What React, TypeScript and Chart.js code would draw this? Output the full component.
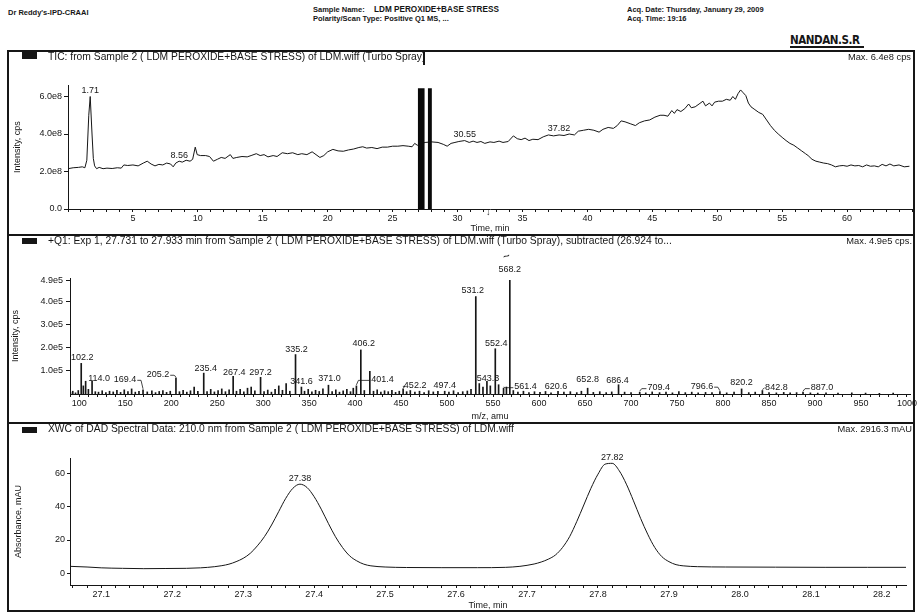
import React, { useEffect, useRef } from "react";
import { Chart, registerables } from "chart.js";

Chart.register(...registerables);

const FONT = "'Liberation Sans', Arial, Helvetica, sans-serif";
const INK = "#161616";

// ---------------- Panel 1: TIC (intensity in units of 1e8 cps) ----------------
const ticTime = [
  0, 0.4, 0.8, 1.1, 1.3, 1.45, 1.6, 1.71, 1.85, 1.95,
  2.05, 2.2, 2.4, 2.7, 3.0, 3.4, 3.8, 4.1, 4.3, 4.6,
  5.0, 5.4, 5.8, 6.1, 6.4, 6.7, 7.0, 7.3, 7.6, 7.9,
  8.1, 8.3, 8.56, 8.8, 9.1, 9.4, 9.6, 9.8, 9.95, 10.2,
  10.6, 10.9, 11.2, 11.5, 11.8, 12.1, 12.5, 12.7, 13.0, 13.4,
  13.8, 14.1, 14.5, 14.8, 15.1, 15.4, 15.8, 16.1, 16.5, 16.9,
  17.3, 17.7, 18.0, 18.4, 18.8, 19.1, 19.4, 19.7, 20.0, 20.4,
  20.8, 21.2, 21.6, 22.0, 22.4, 22.7, 23.0, 23.4, 23.8, 24.2,
  24.6, 25.0, 25.4, 25.8, 26.2, 26.5, 26.7, 26.9, 27.5, 28.0,
  28.5, 28.9, 29.2, 29.5, 29.8, 30.1, 30.55, 30.9, 31.2, 31.5,
  31.8, 32.1, 32.5, 32.8, 33.2, 33.5, 33.9, 34.3, 34.6, 34.9,
  35.2, 35.5, 35.8, 36.2, 36.6, 37.0, 37.4, 37.82, 38.2, 38.6,
  39.0, 39.3, 39.7, 40.1, 40.5, 40.9, 41.2, 41.6, 42.0, 42.3,
  42.6, 42.9, 43.3, 43.7, 44.0, 44.4, 44.8, 45.2, 45.6, 45.9,
  46.2, 46.5, 46.7, 46.9, 47.2, 47.5, 47.8, 48.0, 48.3, 48.6,
  48.9, 49.1, 49.4, 49.6, 49.8, 50.1, 50.4, 50.7, 51.0, 51.2,
  51.4, 51.6, 51.8, 52.0, 52.2, 52.4, 52.6, 52.9, 53.2, 53.5,
  53.8, 54.1, 54.4, 54.7, 55.0, 55.3, 55.6, 55.9, 56.2, 56.5,
  56.8, 57.0, 57.3, 57.6, 57.9, 58.2, 58.5, 58.8, 59.1, 59.4,
  59.7, 60.0, 60.3, 60.6, 60.9, 61.2, 61.5, 61.8, 62.1, 62.4,
  62.7, 63.0, 63.3, 63.6, 64.0, 64.4, 64.8,
];
const ticIntensity = [
  2.15, 2.2, 2.22, 2.25, 2.2, 2.6, 5.0, 6.0, 4.0, 2.7,
  2.3, 2.15, 2.22, 2.15, 2.18, 2.16, 2.2, 2.18, 2.35, 2.32,
  2.35, 2.3, 2.45, 2.55, 2.4, 2.3, 2.38, 2.35, 2.45, 2.4,
  2.25, 2.45, 2.55, 2.5, 2.6, 2.55, 2.65, 3.3, 2.9, 2.85,
  2.85, 2.8, 2.55, 2.65, 2.75, 2.7, 2.9, 2.7, 2.75, 2.8,
  2.78, 2.85, 2.95, 2.85, 2.9, 2.78, 2.85, 2.8, 3.0, 2.95,
  3.0, 2.9, 2.95, 2.9, 3.05, 2.9, 2.75, 2.85, 3.05, 3.18,
  3.1, 3.08, 3.15, 3.2, 3.28, 3.32, 3.25, 3.28, 3.22, 3.3,
  3.3, 3.35, 3.35, 3.38, 3.35, 3.32, 3.5, 3.4, 3.55, 3.58,
  3.55, 3.45, 3.35, 3.5, 3.55, 3.6, 3.65, 3.55, 3.62, 3.55,
  3.6, 3.5, 3.58, 3.55, 3.62, 3.55, 3.6, 3.9, 3.75, 3.7,
  3.78, 3.65, 3.72, 3.7, 3.85, 3.95, 3.9, 3.95, 3.92, 4.0,
  3.95, 4.15, 4.2, 4.25, 4.2, 4.1, 4.25, 4.35, 4.3, 4.45,
  4.7, 4.65, 4.55, 4.45, 4.6, 4.7, 4.75, 4.9, 5.0, 5.0,
  4.95, 5.25, 5.1, 5.3, 5.2, 5.35, 5.6, 5.4, 5.45, 5.6,
  5.75, 5.5, 5.65, 5.5, 5.7, 5.75, 5.75, 5.85, 5.8, 6.0,
  5.85, 6.15, 6.35, 6.2, 6.05, 5.65, 5.45, 5.3, 5.15, 5.05,
  4.75, 4.45, 4.2, 4.0, 3.82, 3.65, 3.5, 3.4, 3.25, 3.1,
  2.95, 2.85, 2.65, 2.55, 2.5, 2.45, 2.42, 2.35, 2.25, 2.3,
  2.32, 2.28, 2.35, 2.3, 2.32, 2.25, 2.35, 2.28, 2.3, 2.25,
  2.38, 2.3, 2.4, 2.3, 2.35, 2.25, 2.28,
];
const ticPeakTimes = [1.71, 8.56, 30.55, 37.82];
const ticPeakLabels = ["1.71", "8.56", "30.55", "37.82"];
const ticWindowStart = [26.95, 27.72];
const ticWindowEnd = [27.46, 28.02];
const ticWindowTop = 6.44;
const ticXTicks = [5, 10, 15, 20, 25, 30, 35, 40, 45, 50, 55, 60];
const ticYTicks = [0, 2, 4, 6];
const ticYTickLabels = ["0.0", "2.0e8", "4.0e8", "6.0e8"];

// ---------------- Panel 2: Q1 spectrum (intensity in units of 1e5 cps) ----------------
const msMz = [
  88.0, 90.5, 93.0, 96.0, 99.0, 102.2, 104.5, 107.0, 110.0, 114.0,
  117.5, 121.0, 125.0, 129.0, 133.0, 137.0, 141.0, 145.0, 149.0, 153.0,
  157.0, 161.0, 165.0, 169.4, 174.0, 179.0, 183.0, 187.0, 191.0, 195.0,
  199.0, 205.2, 209.0, 213.0, 217.0, 221.0, 225.0, 229.0, 235.4, 239.0,
  243.0, 247.0, 251.0, 255.0, 259.0, 263.0, 267.4, 271.0, 275.0, 279.0,
  283.0, 287.0, 291.0, 297.2, 301.0, 305.0, 309.0, 313.0, 317.0, 321.0,
  325.0, 329.0, 335.2, 341.6, 345.0, 349.0, 353.0, 357.0, 361.0, 365.0,
  371.0, 375.0, 379.0, 383.0, 387.0, 391.0, 395.0, 398.0, 401.4, 406.2,
  410.0, 416.0, 420.0, 424.0, 428.0, 432.0, 436.0, 440.0, 444.0, 448.0,
  452.2, 456.0, 460.0, 465.0, 470.0, 475.0, 480.0, 485.0, 490.0, 497.4,
  502.0, 507.0, 512.0, 517.0, 522.0, 526.0, 531.2, 535.0, 539.0, 543.3,
  547.0, 552.4, 556.0, 561.4, 564.5, 568.2, 572.0, 577.0, 583.0, 589.0,
  595.0, 601.0, 607.0, 613.0, 620.6, 627.0, 634.0, 641.0, 646.0, 652.8,
  659.0, 666.0, 673.0, 679.0, 686.4, 693.0, 700.0, 709.4, 716.0, 723.0,
  731.0, 738.0, 745.0, 752.0, 759.0, 766.0, 773.0, 781.0, 788.0, 796.6,
  804.0, 812.0, 820.2, 828.0, 835.0, 842.8, 850.0, 858.0, 866.0, 873.0,
  880.0, 887.0, 895.0, 903.0, 912.0, 925.0, 940.0, 955.0, 970.0, 985.0,
];
const msIntensity = [
  0.10, 0.06, 0.12, 0.05, 0.15, 1.32, 0.35, 0.55, 0.20, 0.55,
  0.10, 0.08, 0.14, 0.06, 0.12, 0.09, 0.16, 0.07, 0.18, 0.10,
  0.22, 0.08, 0.12, 0.18, 0.09, 0.14, 0.06, 0.11, 0.15, 0.07,
  0.12, 0.70, 0.10, 0.16, 0.08, 0.14, 0.30, 0.12, 0.90, 0.10,
  0.20, 0.09, 0.15, 0.22, 0.10, 0.18, 0.76, 0.12, 0.20, 0.09,
  0.25, 0.30, 0.14, 0.72, 0.10, 0.17, 0.08, 0.20, 0.35, 0.16,
  0.45, 0.12, 1.70, 0.30, 0.12, 0.20, 0.09, 0.16, 0.11, 0.22,
  0.38, 0.10, 0.18, 0.08, 0.14, 0.20, 0.10, 0.25, 0.35, 1.90,
  0.15, 0.98, 0.12, 0.18, 0.08, 0.14, 0.10, 0.16, 0.07, 0.12,
  0.22, 0.10, 0.15, 0.08, 0.12, 0.06, 0.14, 0.09, 0.11, 0.12,
  0.08, 0.14, 0.06, 0.10, 0.13, 0.20, 4.20, 0.45, 0.30, 0.55,
  0.35, 1.95, 0.40, 0.25, 0.30, 4.90, 0.15, 0.08, 0.12, 0.06,
  0.10, 0.07, 0.11, 0.05, 0.12, 0.08, 0.10, 0.06, 0.12, 0.25,
  0.07, 0.10, 0.06, 0.09, 0.40, 0.08, 0.06, 0.08, 0.05, 0.09,
  0.06, 0.08, 0.05, 0.10, 0.06, 0.08, 0.05, 0.07, 0.06, 0.10,
  0.05, 0.08, 0.22, 0.06, 0.08, 0.15, 0.06, 0.05, 0.07, 0.05,
  0.06, 0.08, 0.05, 0.04, 0.05, 0.04, 0.05, 0.04, 0.03, 0.04,
];
const msLabelMz = [
  102.2, 114.0, 169.4, 205.2, 235.4, 267.4, 297.2, 335.2, 341.6, 371.0,
  401.4, 406.2, 452.2, 497.4, 531.2, 543.3, 552.4, 561.4, 568.2, 620.6,
  652.8, 686.4, 709.4, 796.6, 820.2, 842.8, 887.0,
];
const msXTicks = [100, 150, 200, 250, 300, 350, 400, 450, 500, 550, 600, 650, 700, 750, 800, 850, 900, 950, 1000];
const msYTicks = [1, 2, 3, 4, 4.9];
const msYTickLabels = ["1.0e5", "2.0e5", "3.0e5", "4.0e5", "4.9e5"];

// ---------------- Panel 3: DAD 210 nm (mAU) ----------------
const uvTime = [
  27.056, 27.08, 27.10, 27.13, 27.16, 27.19, 27.22, 27.24, 27.26, 27.27,
  27.28, 27.29, 27.30, 27.31, 27.32, 27.33, 27.34, 27.35, 27.36, 27.37,
  27.38, 27.39, 27.40, 27.41, 27.42, 27.43, 27.44, 27.45, 27.46, 27.47,
  27.48, 27.50, 27.53, 27.58, 27.63, 27.67, 27.69, 27.70, 27.71, 27.72,
  27.73, 27.74, 27.75, 27.76, 27.77, 27.78, 27.79, 27.80, 27.81, 27.82,
  27.83, 27.84, 27.85, 27.86, 27.87, 27.88, 27.89, 27.90, 27.91, 27.92,
  27.94, 27.98, 28.05, 28.12, 28.18, 28.234,
];
const uvAbs = [
  4.2, 3.8, 3.3, 3.0, 2.8, 2.9, 3.0, 3.3, 4.0, 4.6,
  5.5, 7.0, 9.0, 12.0, 16.5, 22.0, 29.0, 37.0, 45.0, 51.0,
  53.5, 51.5, 46.0, 38.5, 30.0, 22.0, 15.5, 10.5, 7.5, 5.5,
  4.5, 3.8, 3.5, 3.4, 3.4, 3.6, 4.2, 4.8, 5.6, 6.8,
  8.5, 11.0, 15.5, 22.0, 31.0, 41.0, 51.0, 59.5, 65.5, 66.0,
  61.5, 53.5, 43.5, 33.0, 23.5, 15.5, 10.0, 7.0, 5.2, 4.5,
  4.0, 3.8, 3.7, 3.6, 3.6, 3.6,
];
const uvPeakTimes = [27.38, 27.82];
const uvPeakLabels = ["27.38", "27.82"];
const uvXTicks = [27.1, 27.2, 27.3, 27.4, 27.5, 27.6, 27.7, 27.8, 27.9, 28.0, 28.1, 28.2];
const uvXTickLabels = ["27.1", "27.2", "27.3", "27.4", "27.5", "27.6", "27.7", "27.8", "27.9", "28.0", "28.1", "28.2"];
const uvYTicks = [0, 20, 40, 60];

// label placement tweaks for the spectrum annotations (pixels)
const MS_LABEL_SHIFT: Record<string, [number, number]> = {
  "102.2": [1, 1], "114.0": [7, 4], "169.4": [-18, -4], "205.2": [-18, 3], "235.4": [2, 2],
  "267.4": [1, 3], "297.2": [0, 2], "335.2": [1, 1], "341.6": [0, 1], "371.0": [1, 0],
  "401.4": [26, 0], "406.2": [3, 0], "452.2": [12, 3], "497.4": [0, 1], "531.2": [-3, 0],
  "543.3": [1, 4], "552.4": [1, 1], "561.4": [22, 5], "568.2": [0, -4], "620.6": [-2, 2],
  "652.8": [0, -2], "686.4": [-1, 2], "709.4": [19, 2], "796.6": [-18, 1], "820.2": [0, 0],
  "842.8": [14, 3], "887.0": [19, 2],
};

function interp(xs: number[], ys: number[], x: number) {
  for (let i = 0; i < xs.length - 1; i++) {
    if (x >= xs[i] && x <= xs[i + 1]) {
      const f = (x - xs[i]) / (xs[i + 1] - xs[i]);
      return ys[i] + f * (ys[i + 1] - ys[i]);
    }
  }
  return ys[ys.length - 1];
}

const peakLabelPlugin = {
  id: "peakLabels",
  afterDatasetsDraw(chart: any, _args: any, opts: any) {
    const items = opts.items || [];
    const ctx = chart.ctx;
    const xs = chart.scales.x;
    const ys = chart.scales.y;
    ctx.save();
    ctx.font = `9px ${FONT}`;
    ctx.fillStyle = INK;
    ctx.strokeStyle = INK;
    ctx.lineWidth = 0.8;
    ctx.textAlign = "center";
    ctx.textBaseline = "middle";
    const gap = opts.gap ?? 6.5;
    for (const it of items) {
      const px = xs.getPixelForValue(it.x);
      const py = ys.getPixelForValue(it.y);
      const cx = px + (it.dx || 0);
      const cy = py - gap + (it.dy || 0);
      ctx.fillText(it.text, cx, cy);
      if (it.dx && Math.abs(it.dx) > 10) {
        const w = ctx.measureText(it.text).width;
        ctx.beginPath();
        if (it.dx < 0) {
          ctx.moveTo(cx + w / 2 + 1, cy + 1);
          ctx.lineTo(px - 2, cy + 1);
          ctx.lineTo(px, py - 1);
        } else {
          ctx.moveTo(cx - w / 2 - 1, cy + 1);
          ctx.lineTo(px + 2, cy + 1);
          ctx.lineTo(px, py - 1);
        }
        ctx.stroke();
      }
    }
    ctx.restore();
  },
};

const windowPlugin = {
  id: "xicWindows",
  afterDatasetsDraw(chart: any, _args: any, opts: any) {
    if (!opts.starts) return;
    const ctx = chart.ctx;
    const xs = chart.scales.x;
    const ys = chart.scales.y;
    ctx.save();
    ctx.fillStyle = "#0a0a0a";
    const yTop = ys.getPixelForValue(opts.top);
    const yBot = ys.getPixelForValue(0);
    opts.starts.forEach((s: number, i: number) => {
      const x1 = xs.getPixelForValue(s);
      const x2 = xs.getPixelForValue(opts.ends[i]);
      ctx.fillRect(x1, yTop, x2 - x1, yBot - yTop);
    });
    ctx.restore();
  },
};

function minorTicks(min: number, max: number, step: number) {
  const out: number[] = [];
  const start = Math.ceil(min / step - 1e-9);
  const end = Math.floor(max / step + 1e-9);
  for (let k = start; k <= end; k++) out.push(Math.round(k * step * 1000) / 1000);
  return out;
}

function labelFor(v: number, vals: number[], labels: string[]) {
  const k = vals.findIndex((m) => Math.abs(m - v) < 1e-6);
  return k >= 0 ? labels[k] : "";
}

function xAxis(opt: { min: number; max: number; step: number; majors: number[]; labels: string[]; height: number; title: string; tickLength: number }) {
  const minors = minorTicks(opt.min, opt.max, opt.step);
  return {
    type: "linear",
    min: opt.min,
    max: opt.max,
    offset: false,
    border: { display: true, color: INK, width: 1 },
    grid: { display: true, drawOnChartArea: false, drawTicks: true, tickLength: opt.tickLength, color: INK, tickColor: INK, offset: false },
    ticks: {
      color: INK,
      font: { family: FONT, size: 9 },
      autoSkip: false,
      maxRotation: 0,
      minRotation: 0,
      padding: 1,
      callback: (v: any) => labelFor(Number(v), opt.majors, opt.labels),
    },
    title: { display: true, text: opt.title, color: INK, font: { family: FONT, size: 9 }, padding: { top: 0, bottom: 0 } },
    afterBuildTicks: (s: any) => {
      s.ticks = minors.map((v) => ({ value: v }));
    },
    afterFit: (s: any) => {
      s.height = opt.height;
      s.paddingLeft = 0;
      s.paddingRight = 0;
    },
  };
}

function yAxis(opt: { min: number; max: number; ticks: number[]; labels: string[]; width: number; title: string; tickLength: number; padding: number; titlePad: number }) {
  return {
    type: "linear",
    min: opt.min,
    max: opt.max,
    border: { display: true, color: INK, width: 1 },
    grid: { display: true, drawOnChartArea: false, drawTicks: true, tickLength: opt.tickLength, color: INK, tickColor: INK },
    ticks: {
      color: INK,
      font: { family: FONT, size: 9 },
      autoSkip: false,
      padding: opt.padding,
      callback: (v: any) => labelFor(Number(v), opt.ticks, opt.labels),
    },
    title: { display: true, text: opt.title, color: INK, font: { family: FONT, size: 9 }, padding: { top: opt.titlePad, bottom: 0 } },
    afterBuildTicks: (s: any) => {
      s.ticks = opt.ticks.map((v) => ({ value: v }));
    },
    afterFit: (s: any) => {
      s.width = opt.width;
      s.paddingTop = 0;
      s.paddingBottom = 0;
    },
  };
}

function baseOptions(padding: any) {
  return {
    responsive: false,
    maintainAspectRatio: false,
    animation: false,
    devicePixelRatio: 1,
    events: [],
    layout: { padding },
  };
}

export default function App() {
  const c1 = useRef<HTMLCanvasElement>(null);
  const c2 = useRef<HTMLCanvasElement>(null);
  const c3 = useRef<HTMLCanvasElement>(null);

  useEffect(() => {
    const charts: Chart[] = [];

    // Panel 1
    charts.push(
      new Chart(c1.current as HTMLCanvasElement, {
        type: "line",
        data: {
          datasets: [
            {
              data: ticTime.map((t, i) => ({ x: t, y: ticIntensity[i] })),
              borderColor: INK,
              borderWidth: 1,
              pointRadius: 0,
              tension: 0,
              fill: false,
            },
          ],
        },
        options: {
          ...baseOptions({ top: 34.25, right: 2, left: 0, bottom: 0 }),
          plugins: {
            legend: { display: false },
            tooltip: { enabled: false },
            peakLabels: {
              gap: 6,
              items: ticPeakTimes.map((t, i) => ({ x: t, y: interp(ticTime, ticIntensity, t), text: ticPeakLabels[i] })),
            },
            xicWindows: { starts: ticWindowStart, ends: ticWindowEnd, top: ticWindowTop },
          },
          scales: {
            x: xAxis({ min: 0, max: 65, step: 1, majors: ticXTicks, labels: ticXTicks.map(String), height: 25, title: "Time, min", tickLength: 3 }),
            y: yAxis({ min: 0, max: 6.6, ticks: ticYTicks, labels: ticYTickLabels, width: 60, title: "Intensity, cps", tickLength: 4, padding: 2, titlePad: 4 }),
          },
        } as any,
        plugins: [peakLabelPlugin, windowPlugin],
      } as any)
    );

    // Panel 2
    charts.push(
      new Chart(c2.current as HTMLCanvasElement, {
        type: "bar",
        data: {
          datasets: [
            {
              data: msMz.map((m, i) => ({ x: m, y: msIntensity[i] })),
              backgroundColor: INK,
              borderWidth: 0,
              barThickness: 1,
              grouped: false,
            },
          ],
        },
        options: {
          ...baseOptions({ top: 43, right: 12, left: 0, bottom: 0 }),
          plugins: {
            legend: { display: false },
            tooltip: { enabled: false },
            peakLabels: {
              gap: 6.5,
              items: msLabelMz.map((m) => {
                const key = m.toFixed(1);
                const sh = MS_LABEL_SHIFT[key] || [0, 0];
                return { x: m, y: msIntensity[msMz.indexOf(m)], text: key, dx: sh[0], dy: sh[1] };
              }),
            },
          },
          scales: {
            x: xAxis({ min: 90, max: 1003.3, step: 10, majors: msXTicks, labels: msXTicks.map(String), height: 28, title: "m/z, amu", tickLength: 3 }),
            y: yAxis({ min: 0, max: 5.0, ticks: msYTicks, labels: msYTickLabels, width: 62, title: "Intensity, cps", tickLength: 4, padding: 3, titlePad: 2 }),
          },
        } as any,
        plugins: [peakLabelPlugin],
      } as any)
    );

    // Panel 3
    charts.push(
      new Chart(c3.current as HTMLCanvasElement, {
        type: "line",
        data: {
          datasets: [
            {
              data: uvTime.map((t, i) => ({ x: t, y: uvAbs[i] })),
              borderColor: INK,
              borderWidth: 1,
              pointRadius: 0,
              cubicInterpolationMode: "monotone",
              fill: false,
            },
          ],
        },
        options: {
          ...baseOptions({ top: 35, right: 8, left: 0, bottom: 0 }),
          plugins: {
            legend: { display: false },
            tooltip: { enabled: false },
            peakLabels: {
              gap: 5.5,
              items: uvPeakTimes.map((t, i) => ({ x: t, y: interp(uvTime, uvAbs, t), text: uvPeakLabels[i] })),
            },
          },
          scales: {
            x: xAxis({ min: 27.056, max: 28.234, step: 0.02, majors: uvXTicks, labels: uvXTickLabels, height: 26, title: "Time, min", tickLength: 3 }),
            y: yAxis({ min: -7, max: 69.2, ticks: uvYTicks, labels: uvYTicks.map(String), width: 62, title: "Absorbance, mAU", tickLength: 3, padding: 2, titlePad: 5 }),
          },
        } as any,
        plugins: [peakLabelPlugin],
      } as any)
    );

    return () => charts.forEach((c) => c.destroy());
  }, []);

  const abs = (s: any): React.CSSProperties => ({ position: "absolute", ...s });
  const hdr: React.CSSProperties = { position: "absolute", fontSize: 7.5, fontWeight: 700, lineHeight: "9px", whiteSpace: "nowrap" };
  const ttl: React.CSSProperties = { position: "absolute", fontSize: 10.3, lineHeight: "10px", whiteSpace: "nowrap" };
  const mx: React.CSSProperties = { position: "absolute", fontSize: 9.3, lineHeight: "10px", whiteSpace: "nowrap" };
  const line = (l: number, t: number, w: number, h: number) => <div style={abs({ left: l, top: t, width: w, height: h, background: INK })} />;

  return (
    <div style={{ position: "absolute", left: 0, top: 0, width: 920, height: 613, background: "#fff", overflow: "hidden", fontFamily: FONT, color: INK }}>
      <canvas ref={c1} width={906} height={183} style={abs({ left: 8, top: 51, width: 906, height: 183 })} />
      <canvas ref={c2} width={914} height={187} style={abs({ left: 8, top: 235, width: 914, height: 187 })} />
      <canvas ref={c3} width={906} height={188} style={abs({ left: 8, top: 423, width: 906, height: 188 })} />

      {/* header */}
      <div style={{ ...hdr, left: 8, top: 8 }}>Dr Reddy's-IPD-CRAAI</div>
      <div style={{ ...hdr, left: 313, top: 5 }}>Sample Name:</div>
      <div style={{ ...hdr, left: 374, top: 5, fontSize: 8.2 }}>LDM PEROXIDE+BASE STRESS</div>
      <div style={{ ...hdr, left: 313, top: 14 }}>Polarity/Scan Type: Positive Q1 MS, ...</div>
      <div style={{ ...hdr, left: 627, top: 5 }}>Acq. Date: Thursday, January 29, 2009</div>
      <div style={{ ...hdr, left: 627, top: 14 }}>Acq. Time: 19:16</div>
      <div style={abs({ left: 790, top: 32, fontSize: 13, fontWeight: 700, letterSpacing: -0.6, fontFamily: "'DejaVu Sans', sans-serif", lineHeight: "15px", whiteSpace: "nowrap", transform: "scaleX(0.8)", transformOrigin: "left center" })}>NANDAN.S.R</div>
      {line(790, 46, 74, 1.5)}

      {/* frame */}
      {line(7, 50, 908, 2)}
      {line(7, 50, 1.5, 562)}
      {line(913, 50, 1.5, 562)}
      {line(7, 234, 908, 1.5)}
      {line(7, 422, 908, 1.5)}
      {line(7, 610, 908, 2)}

      {/* panel titles */}
      {line(22, 52, 15, 7)}
      <div style={{ ...ttl, left: 48, top: 52 }}>TIC: from Sample 2 ( LDM PEROXIDE+BASE STRESS) of LDM.wiff (Turbo Spray)</div>
      <div style={{ ...mx, right: 9, top: 52 }}>Max. 6.4e8 cps</div>
      {line(423, 52, 2, 13)}
      <div style={abs({ left: 486, top: 207, fontSize: 9, fontWeight: 700, lineHeight: "10px" })}>↓</div>

      {line(22, 238, 15, 6)}
      <div style={{ ...ttl, left: 48, top: 235.5 }}>+Q1: Exp 1, 27.731 to 27.933 min from Sample 2 ( LDM PEROXIDE+BASE STRESS) of LDM.wiff (Turbo Spray), subtracted (26.924 to...</div>
      <div style={{ ...mx, right: 8, top: 235.5 }}>Max. 4.9e5 cps.</div>
      <div style={abs({ left: 503, top: 250, fontSize: 12, lineHeight: "12px", transform: "rotate(-20deg)" })}>~</div>

      {line(22, 426.5, 15, 6)}
      <div style={{ ...ttl, left: 48, top: 424 }}>XWC of DAD Spectral Data: 210.0 nm from Sample 2 ( LDM PEROXIDE+BASE STRESS) of LDM.wiff</div>
      <div style={{ ...mx, right: 8, top: 424 }}>Max. 2916.3 mAU</div>
    </div>
  );
}
